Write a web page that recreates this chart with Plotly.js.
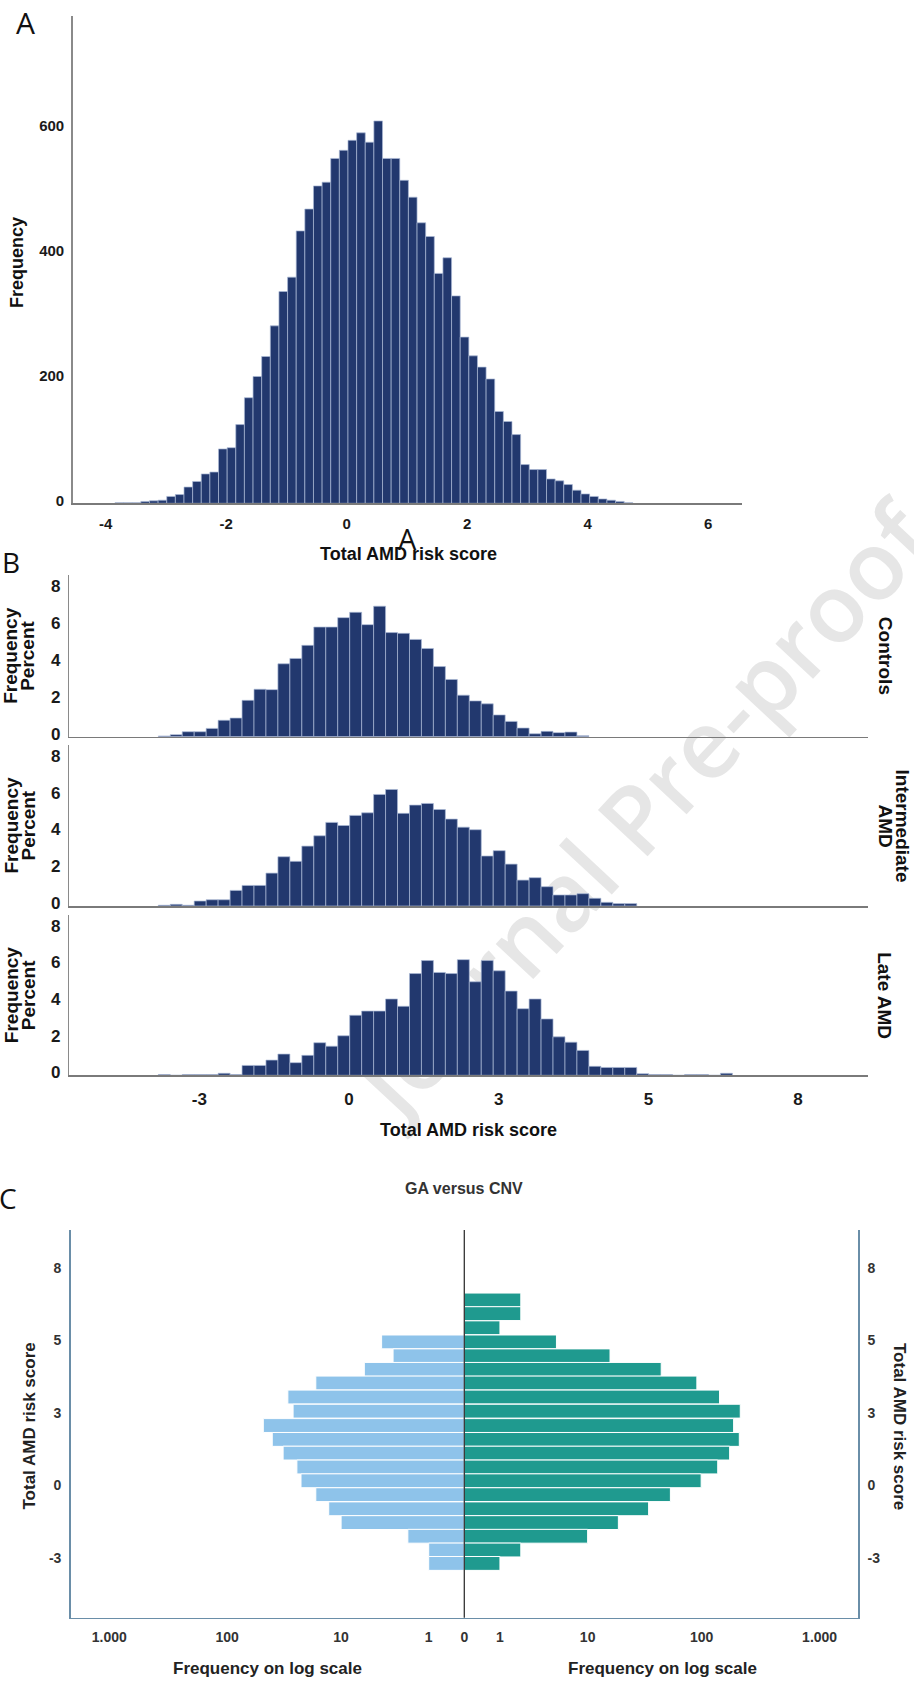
<!DOCTYPE html>
<html><head><meta charset="utf-8">
<script src="https://cdn.plot.ly/plotly-3.0.1.min.js"></script>
<style>
html,body{margin:0;padding:0;background:#fff;}
#wrap{position:relative;width:914px;height:1682px;overflow:hidden;background:#fff;}
#wm{position:absolute;left:642px;top:808px;transform:translate(-50%,-50%) rotate(-47deg);font-family:'Open Sans',sans-serif;font-weight:600;font-size:95px;color:#e6e6e6;white-space:nowrap;}
#chart{position:absolute;left:0;top:0;width:914px;height:1682px;}
</style></head>
<body><div id="wrap"><div id="wm">Journal Pre-proof</div><div id="chart"></div></div>
<script>
// ---------------- Panel A data ----------------
const aFirstBin = -27;
const aBinWidth = 0.1433;
const aOrigin = 0.0216;
const aFreq = [1,1,1,3,4,5,11,14,26,35,47,50,87,89,126,169,203,235,284,339,
  362,436,471,508,514,552,565,581,593,578,612,552,552,517,490,449,427,368,393,332,
  266,236,218,199,147,131,110,62,54,54,39,36,30,21,15,11,7,5,3,1];
const aXTicks = [-4,-2,0,2,4,6];
const aXTickText = ['-4','-2','0','2','4','6'];
const aYTicks = [0,200,400,600];

// ---------------- Panel B data ----------------
const bFirstBin = -16;
const bBinWidth = 0.2397;
const bOrigin = 0.014;
const controlsPct = [0.04,0.11,0.27,0.27,0.45,0.89,1.01,1.97,2.57,2.55,3.95,4.24,4.95,5.94,5.94,6.45,6.74,6.07,7.07,5.64,
  5.6,5.27,4.78,3.8,3.1,2.25,1.94,1.78,1.18,0.83,0.47,0.16,0.29,0.22,0.25,0.05];
const intermediatePct = [0.04,0.09,0.04,0.27,0.34,0.34,0.85,1.12,1.12,1.79,2.68,2.43,3.26,3.82,4.55,4.38,4.93,5.07,6.07,6.34,
  5.04,5.49,5.58,5.25,4.73,4.29,4.15,2.72,3.01,2.28,1.41,1.54,1.05,0.6,0.6,0.67,0.42,0.2,0.13,0.13];
const latePct = [0.04,0,0.04,0.04,0.04,0.11,0.04,0.54,0.54,0.83,1.16,0.69,1.09,1.78,1.59,2.16,3.28,3.51,3.51,4.17,
  3.77,5.56,6.27,5.62,5.56,6.32,5.11,6.27,5.71,4.6,3.64,4.17,3.08,2.1,1.81,1.36,0.49,0.43,0.43,0.43,
  0.09,0.04,0.04,0,0.04,0.04,0,0.11];
const bXTickVals = [-3,0,3,6,9];
const bXTickText = ['-3','0','3','5','8'];
const bYTicks = [0,2,4,6,8];
const bGroupLabels = ['Controls','Intermediate AMD','Late AMD'];

// ---------------- Panel C data ----------------
const cBinCenters = [7.675,7.11,6.525,5.94,5.365,4.805,4.24,3.66,3.075,2.48,1.905,1.34,0.765,0.195,-0.38,-0.965,-1.535,-2.10,-2.67,-3.225];
const cBinWidth = 0.5725;
const gaFreq  = [null,null,null,4,3,6,17,30,27,49,41,33,25,23,17,13,10,2,1,1];
const cnvFreq = [2,2,1,5,16,45,91,142,213,187,209,173,137,99,54,35,19,10,2,1];
const cYTickVals = [-3,0,3,6,9];
const cYTickText = ['-3','0','3','5','8'];
const cXTickCounts = [0,1,10,100,1000];
const cXTickText = ['0','1','10','100','1.000'];

// ---------------- helpers ----------------
const W = 914, H = 1682;
const px = v => v / W;
const py = v => 1 - v / H;
const FONT = 'Liberation Sans, Arial, sans-serif';
const NAVY = '#22386e';
const SEP = '#aab9d6';
const binCenters = (first, n, w, o) => Array.from({length:n}, (_, i) => o + (first + i + 0.5) * w);

const traces = [];
traces.push({type:'bar', x: binCenters(aFirstBin, aFreq.length, aBinWidth, aOrigin), y: aFreq,
  width: aBinWidth, xaxis:'x', yaxis:'y', marker:{color:NAVY, line:{color:SEP, width:0.7}}, hoverinfo:'skip'});
[controlsPct, intermediatePct, latePct].forEach((arr, i) => {
  traces.push({type:'bar', x: binCenters(bFirstBin, arr.length, bBinWidth, bOrigin), y: arr,
    width: bBinWidth, xaxis:'x'+(i+2), yaxis:'y'+(i+2), marker:{color:NAVY, line:{color:SEP, width:0.7}}, hoverinfo:'skip'});
});
traces.push({type:'bar', orientation:'h', y: cBinCenters, x: gaFreq, base: 1, width: cBinWidth,
  xaxis:'x5', yaxis:'y5', marker:{color:'#8ec3ea', line:{color:'#ffffff', width:1}}, hoverinfo:'skip'});
traces.push({type:'bar', orientation:'h', y: cBinCenters, x: cnvFreq, base: 1, width: cBinWidth,
  xaxis:'x6', yaxis:'y6', marker:{color:'#1f9a8f', line:{color:'#ffffff', width:1}}, hoverinfo:'skip'});

const tickFontA = {family:FONT, size:15, color:'#1a1a1a', weight:'bold'};
const tickFontB = {family:FONT, size:17, color:'#1a1a1a', weight:'bold'};
const tickFontC = {family:FONT, size:14, color:'#333333', weight:'bold'};
const base = {showgrid:false, zeroline:false, ticks:'', fixedrange:true};

const layout = {
  width: W, height: H, autosize:false,
  margin:{l:0, r:0, t:0, b:0, pad:0},
  paper_bgcolor:'rgba(0,0,0,0)', plot_bgcolor:'rgba(0,0,0,0)',
  showlegend:false, font:{family:FONT},
  xaxis: Object.assign({}, base, {domain:[px(72.7), px(742)], range:[-4.549, 6.563], anchor:'y',
    showline:true, linecolor:'#7a7a7a', linewidth:1.5, tickvals:aXTicks, ticktext:aXTickText, tickfont:tickFontA, ticklabelstandoff:6}),
  yaxis: Object.assign({}, base, {domain:[py(503.3), py(16)], range:[0, 780], anchor:'x',
    showline:true, linecolor:'#8a8a8a', linewidth:1.5, tickvals:aYTicks, tickfont:tickFontA, ticklabelstandoff:4, ticklabelshift:-3}),
  shapes: [
    {type:'line', xref:'x6 domain', yref:'y6 domain', x0:0, x1:0, y0:0, y1:1, line:{color:'#333333', width:1.3}}
  ],
  annotations: []
};

const bDomY = [[575, 736.7], [745, 906], [915, 1075.3]];
for (let i = 0; i < 3; i++) {
  const n = i + 2;
  layout['xaxis'+n] = Object.assign({}, base, {domain:[px(69.3), px(868.3)], range:[-5.605, 10.407], anchor:'y'+n,
    showline:true, linecolor:'#7a7a7a', linewidth:1.5, showticklabels: i === 2,
    tickvals:bXTickVals, ticktext:bXTickText, tickfont:tickFontB, ticklabelstandoff:8});
  layout['yaxis'+n] = Object.assign({}, base, {domain:[py(bDomY[i][1]), py(bDomY[i][0])], range:[0, 8.76], anchor:'x'+n,
    showline:true, linecolor:'#8a8a8a', linewidth:1.5, tickvals:bYTicks, tickfont:tickFontB, ticklabelstandoff:4, ticklabelshift:-3});
}

const cLine = '#6a8ea8';
layout.xaxis5 = Object.assign({}, base, {type:'log', domain:[px(70.7), px(464.3)], range:[3.327, 0], anchor:'y5',
  showline:true, linecolor:cLine, linewidth:1.5,
  tickvals: cXTickCounts.slice(1).map(c => c + 1), ticktext: cXTickText.slice(1), tickfont:tickFontC, ticklabelstandoff:6});
layout.xaxis6 = Object.assign({}, base, {type:'log', domain:[px(464.3), px(858.3)], range:[0, 3.327], anchor:'y6',
  showline:true, linecolor:cLine, linewidth:1.5,
  tickvals: cXTickCounts.map(c => c + 1), ticktext: cXTickText, tickfont:tickFontC, ticklabelstandoff:6});
layout.yaxis5 = Object.assign({}, base, {domain:[py(1617.7), py(1230)], range:[-5.47, 10.57], anchor:'x5', side:'left',
  showline:true, linecolor:cLine, linewidth:1.5, tickvals:cYTickVals, ticktext:cYTickText, tickfont:tickFontC, ticklabelstandoff:5});
layout.yaxis6 = Object.assign({}, base, {domain:[py(1617.7), py(1230)], range:[-5.47, 10.57], anchor:'x6', side:'right',
  showline:true, linecolor:cLine, linewidth:1.5, tickvals:cYTickVals, ticktext:cYTickText, tickfont:tickFontC, ticklabelstandoff:5});

function ann(text, x, y, size, opts) {
  layout.annotations.push(Object.assign({text, x:px(x), y:py(y), xref:'paper', yref:'paper', showarrow:false,
    xanchor:'center', yanchor:'middle', font:{family:FONT, size, color:'#111111', weight:'bold'}}, opts || {}));
}
const thin = s => ({font:{family:'Open Sans, Noto Sans, sans-serif', size:s, color:'#111111', weight:'normal'}});
// panel letters
ann('A', 25, 22, 30, thin(30));
ann('B', 11, 562, 28, thin(28));
ann('C', 8, 1198, 28, thin(28));
ann('A', 407, 538, 29, thin(29));
// Panel A titles
ann('Total AMD risk score', 408, 554, 18);
ann('Frequency', 17, 263, 18, {textangle:-90});
// Panel B titles
const bCenters = bDomY.map(d => (d[0] + d[1]) / 2);
bCenters.forEach(c => {
  ann('Frequency', 11, c, 19, {textangle:-90});
  ann('Percent', 28, c, 19, {textangle:-90});
});
ann(bGroupLabels[0], 885, bCenters[0], 19, {textangle:90});
const interParts = bGroupLabels[1].split(' ');
ann(interParts[0], 902, bCenters[1], 19, {textangle:90});
ann(interParts[1], 885, bCenters[1], 19, {textangle:90});
ann(bGroupLabels[2], 885, bCenters[2], 19, {textangle:90});
ann('Total AMD risk score', 468, 1130, 18);
// Panel C titles
ann('GA versus CNV', 464, 1188, 16, {font:{family:FONT, size:16, color:'#333333', weight:'bold'}});
ann('Frequency on log scale', 267, 1668, 17, {font:{family:FONT, size:17, color:'#222222', weight:'bold'}});
ann('Frequency on log scale', 662, 1668, 17, {font:{family:FONT, size:17, color:'#222222', weight:'bold'}});
ann('Total AMD risk score', 28.5, 1426, 17, {textangle:-90, font:{family:FONT, size:17, color:'#222222', weight:'bold'}});
ann('Total AMD risk score', 900, 1426, 17, {textangle:90, font:{family:FONT, size:17, color:'#222222', weight:'bold'}});

Plotly.newPlot('chart', traces, layout, {staticPlot:true, displayModeBar:false});
</script>
</body></html>
